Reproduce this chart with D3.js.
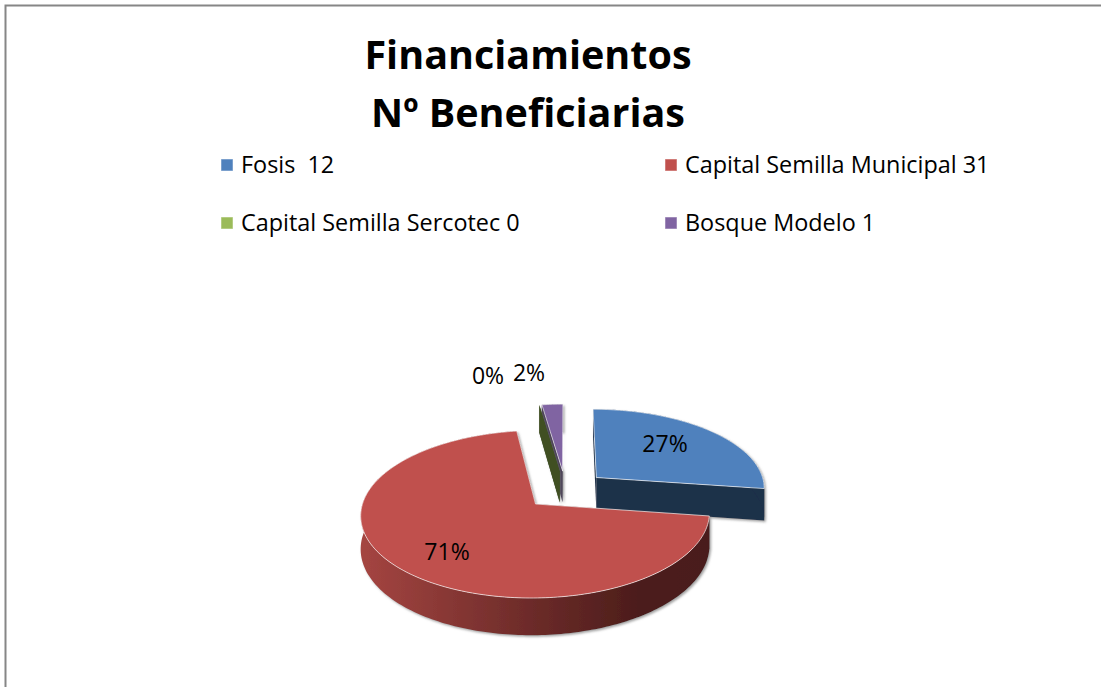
<!DOCTYPE html>
<html>
<head>
<meta charset="utf-8">
<script src="https://cdn.jsdelivr.net/npm/d3@7"></script>
<style>
  html, body { margin: 0; padding: 0; background: #fff; overflow: hidden; }
  text { font-family: "Open Sans", Lato, sans-serif; fill: #000; white-space: pre; }
</style>
</head>
<body>
<div id="chart"></div>
<script>
// data
var titleLines = ["Financiamientos", "Nº Beneficiarias"];
var categories = ["Fosis ", "Capital Semilla Municipal", "Capital Semilla Sercotec", "Bosque Modelo"];
var counts = [12, 31, 0, 1];
var pctLabels = ["27%", "71%", "0%", "2%"];
var topColors = ["#4f81bd", "#c0504d", "#9bbb59", "#8064a2"];
var wallColors = ["#1d3049", "#4a1c1b", "#3f4f20", "#3a2d4c"];

var width = 1101, height = 687;

var svg = d3.select("#chart").append("svg")
    .attr("width", width)
    .attr("height", height);

// shadow behind the pie walls
var defs = svg.append("defs");
var shadow = defs.append("filter").attr("id", "wallShadow")
    .attr("x", "-30%").attr("y", "-10%").attr("width", "160%").attr("height", "125%");
shadow.append("feDropShadow")
    .attr("dx", 1.5).attr("dy", 1.5).attr("stdDeviation", 0.9)
    .attr("flood-color", "#777").attr("flood-opacity", 0.7);

var redWall = defs.append("linearGradient").attr("id", "redWall")
    .attr("gradientUnits", "userSpaceOnUse")
    .attr("x1", 360).attr("x2", 708).attr("y1", 0).attr("y2", 0);
redWall.append("stop").attr("offset", "0%").attr("stop-color", "#a54541");
redWall.append("stop").attr("offset", "45%").attr("stop-color", "#712d2b");
redWall.append("stop").attr("offset", "80%").attr("stop-color", "#4c1d1b");
redWall.append("stop").attr("offset", "100%").attr("stop-color", "#4a1c1b");

// frame, it runs off the right and bottom of the page
svg.append("rect")
    .attr("x", 5.5).attr("y", 5.5)
    .attr("width", width + 20).attr("height", height + 20)
    .attr("fill", "none")
    .attr("stroke", "#868686")
    .attr("stroke-width", 2);

// title
svg.selectAll(".title")
    .data(titleLines)
    .enter().append("text")
    .attr("class", "title")
    .attr("x", 528)
    .attr("y", function(d, i) { return 69 + i * 58; })
    .attr("text-anchor", "middle")
    .attr("font-size", 39.5)
    .attr("font-weight", 700)
    .text(function(d) { return d; });

// legend, two columns by two rows
var legendX = d3.scalePoint().domain([0, 1]).range([221, 665]);
var legendY = d3.scalePoint().domain([0, 1]).range([165, 223]);

var legend = svg.selectAll(".legend")
    .data(categories)
    .enter().append("g")
    .attr("class", "legend")
    .attr("transform", function(d, i) {
      return "translate(" + legendX(i % 2) + "," + legendY(Math.floor(i / 2)) + ")";
    });

legend.append("rect")
    .attr("y", -6)
    .attr("width", 12)
    .attr("height", 12)
    .attr("fill", function(d, i) { return topColors[i]; })
    .attr("stroke", "#fff")
    .attr("stroke-opacity", 0.5);

legend.append("text")
    .attr("x", 20)
    .attr("y", 7.5)
    .attr("font-size", 23.4)
    .text(function(d, i) { return d + " " + counts[i]; });

// the pie, a tilted disc seen in perspective
var centerX = 565.5, centerY = 490;
var explode = 0.245, tilt = 0.119, depth = 32;

var xScale = d3.scaleLinear().domain([-1, 1]).range([centerX - 169.5, centerX + 169.5]);
var yScale = d3.scaleLinear().domain([-1, 1]).range([centerY + 79.2, centerY - 79.2]);

var slices = d3.pie().sort(null).value(function(d) { return d; })
    .startAngle(0).endAngle(2 * Math.PI)(counts);

function project(u, v, drop) {
  var w = 1 + tilt * v;
  return [
    xScale(u / w),
    yScale(v / w) + (drop ? depth / w : 0)
  ];
}

// point of a slice on its own exploded disc, r 0 is the apex and r 1 the rim
function slicePoint(s, a, r, drop) {
  var mid = (s.startAngle + s.endAngle) / 2;
  return project(
    explode * Math.sin(mid) + r * Math.sin(a),
    explode * Math.cos(mid) + r * Math.cos(a),
    drop
  );
}

function rim(s, drop) {
  var n = Math.max(1, Math.ceil((s.endAngle - s.startAngle) / 0.02));
  return d3.range(n + 1).map(function(i) {
    return slicePoint(s, s.startAngle + (s.endAngle - s.startAngle) * i / n, 1, drop);
  });
}

var line = d3.line();

function topPath(s) {
  return line([slicePoint(s, 0, 0, false)].concat(rim(s, false))) + "Z";
}

function outerWall(s) {
  return line(rim(s, false).concat(rim(s, true).reverse())) + "Z";
}

function cutWall(s, a) {
  return line([
    slicePoint(s, a, 0, false),
    slicePoint(s, a, 1, false),
    slicePoint(s, a, 1, true),
    slicePoint(s, a, 0, true)
  ]) + "Z";
}

// back to front: purple, green, blue, red
var drawOrder = [3, 2, 0, 1];
var pie = svg.append("g");

drawOrder.forEach(function(k) {
  var s = slices[k];
  var g = pie.append("g");
  var wall = k === 1 ? "url(#redWall)" : wallColors[k];
  var walls = g.append("g").attr("filter", "url(#wallShadow)");

  walls.append("path").attr("d", cutWall(s, s.startAngle)).attr("fill", wallColors[k]);
  walls.append("path").attr("d", cutWall(s, s.endAngle)).attr("fill", wallColors[k]);
  if (s.endAngle > s.startAngle) {
    walls.append("path").attr("d", outerWall(s)).attr("fill", wall);
    g.append("path")
      .attr("d", topPath(s))
      .attr("fill", topColors[k])
      .attr("stroke", "#fff")
      .attr("stroke-opacity", 0.65)
      .attr("stroke-width", 1)
      .attr("stroke-linejoin", "round");
  }
});

// percent labels, placed by hand like the original
var labelSpots = [[665, 452], [447, 560], [488, 384], [529, 381]];

svg.selectAll(".pct")
    .data(pctLabels)
    .enter().append("text")
    .attr("class", "pct")
    .attr("x", function(d, i) { return labelSpots[i][0]; })
    .attr("y", function(d, i) { return labelSpots[i][1]; })
    .attr("text-anchor", "middle")
    .attr("font-size", 23)
    .text(function(d) { return d; });
</script>
</body>
</html>
